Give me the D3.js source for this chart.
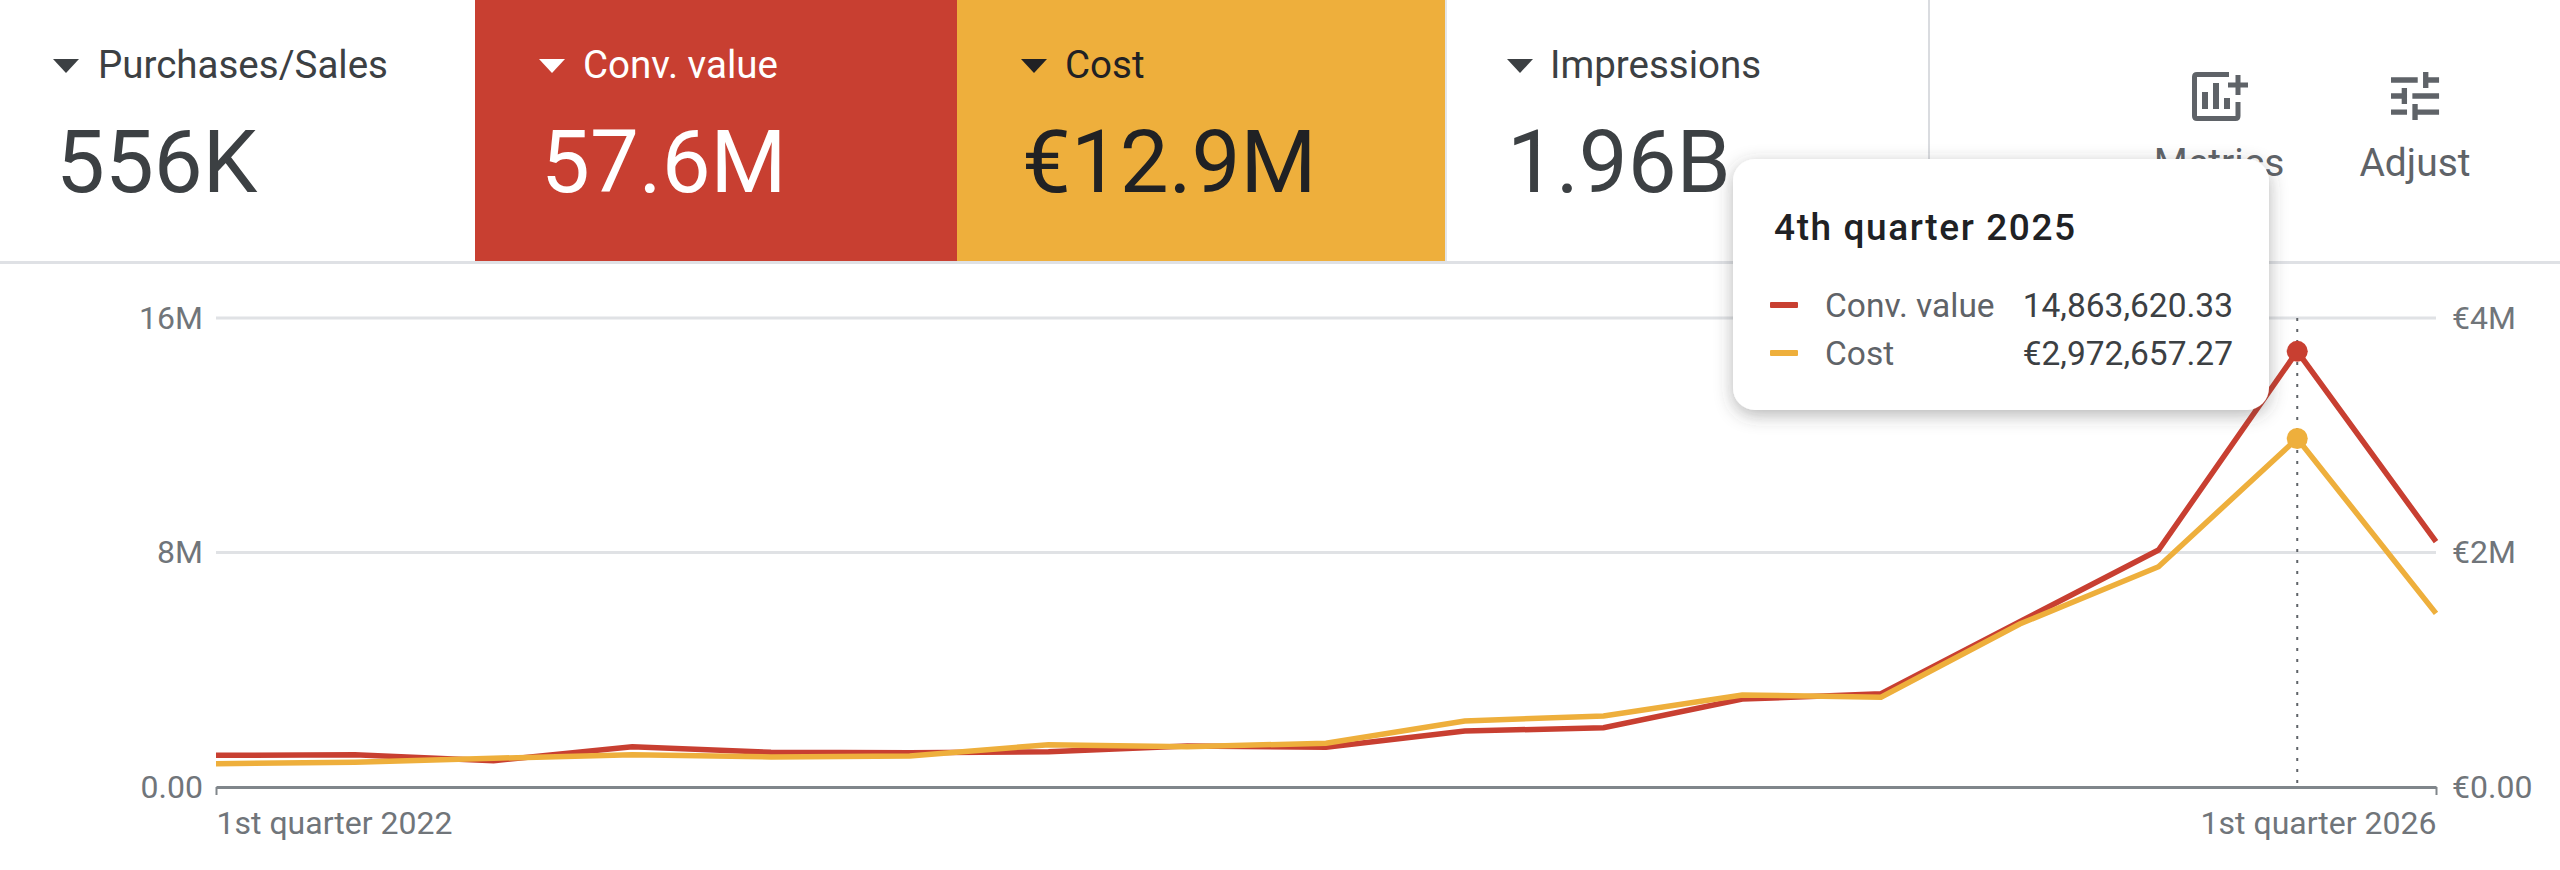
<!DOCTYPE html>
<html>
<head>
<meta charset="utf-8">
<script src="https://cdn.jsdelivr.net/npm/d3@7"></script>
<style>
  html, body { margin: 0; padding: 0; background: #fff; }
  svg { display: block; }
  text { font-family: Roboto, "Noto Sans", sans-serif; }
</style>
</head>
<body>
<svg id="chart" width="2560" height="870"></svg>
<script>
// data
var quarters = ["Q1 2022","Q2 2022","Q3 2022","Q4 2022","Q1 2023","Q2 2023","Q3 2023","Q4 2023","Q1 2024","Q2 2024","Q3 2024","Q4 2024","Q1 2025","Q2 2025","Q3 2025","Q4 2025","Q1 2026"];
var convValue = [1081000,1100000,897000,1375000,1184000,1170000,1204000,1400000,1354000,1910000,2020000,3000000,3180000,5640000,8085000,14863620.33,8370000];
var cost = [199000,211000,245000,275000,256000,264000,361000,344000,373000,563000,606000,785000,765000,1390000,1879000,2972657.27,1481000];

var leftTicks = [0, 8000000, 16000000];
var leftTickLabels = ["0.00", "8M", "16M"];
var rightTicks = [0, 2000000, 4000000];
var rightTickLabels = ["€0.00", "€2M", "€4M"];
var xLabels = ["1st quarter 2022", "1st quarter 2026"];

var cardLabels = ["Purchases/Sales", "Conv. value", "Cost", "Impressions"];
var cardValues = ["556K", "57.6M", "€12.9M", "1.96B"];
var toolButtons = ["Metrics", "Adjust"];

var tipTitle = "4th quarter 2025";
var tipNames = ["Conv. value", "Cost"];
var tipValues = ["14,863,620.33", "€2,972,657.27"];
var hoverIndex = 15;

// colours and layout
var RED = "#c83f31", YELLOW = "#eeaf3c", DARK = "#3c4043", BLACK = "#202124", GREY = "#70757a";
var svg = d3.select("#chart");

var x = d3.scalePoint().domain(quarters).range([216, 2436]);
var yLeft = d3.scaleLinear().domain([0, 16000000]).range([787, 318]);
var yRight = d3.scaleLinear().domain([0, 4000000]).range([787, 318]);

// header cards
var cardBoxes = [
  {x: 0, w: 475, fill: "#fff", text: DARK, tri: 53, label: 98, value: 56},
  {x: 475, w: 482, fill: RED, text: "#fff", tri: 539, label: 583, value: 541},
  {x: 957, w: 488, fill: YELLOW, text: BLACK, tri: 1021, label: 1065, value: 1022},
  {x: 1445, w: 484, fill: "#fff", text: DARK, tri: 1507, label: 1550, value: 1507}
];

var cards = svg.append("g").selectAll("g")
  .data(cardBoxes)
  .enter()
  .append("g");

cards.append("rect")
  .attr("x", function(d){ return d.x; })
  .attr("y", 0)
  .attr("width", function(d){ return d.w; })
  .attr("height", 261)
  .attr("fill", function(d){ return d.fill; });

cards.append("path")
  .attr("d", function(d){ return "M" + d.tri + " 59h26l-13 14z"; })
  .attr("fill", function(d){ return d.text; });

cards.append("text")
  .attr("x", function(d){ return d.label; })
  .attr("y", 78)
  .attr("font-size", 38.5)
  .attr("fill", function(d){ return d.text; })
  .text(function(d, i){ return cardLabels[i]; });

cards.append("text")
  .attr("x", function(d){ return d.value; })
  .attr("y", 192)
  .attr("font-size", 87)
  .attr("fill", function(d){ return d.text; })
  .text(function(d, i){ return cardValues[i]; });

// separators
svg.append("rect").attr("x", 0).attr("y", 261).attr("width", 2560).attr("height", 3).attr("fill", "#dfe1e5");
svg.append("rect").attr("x", 1445).attr("y", 0).attr("width", 2).attr("height", 261).attr("fill", "#e3e5e8");
svg.append("rect").attr("x", 1928).attr("y", 0).attr("width", 2).attr("height", 261).attr("fill", "#dadce0");

// metrics and adjust buttons
var metricsIcon = svg.append("g").attr("fill", "none").attr("stroke", "#5f6368").attr("stroke-width", 5);
metricsIcon.append("path").attr("d", "M2229 74.5H2197q-2.5 0-2.5 2.5V116q0 2.5 2.5 2.5H2235.5q2.5 0 2.5-2.5V102");
metricsIcon.append("path").attr("d", "M2228 85H2248M2238 75V95");
metricsIcon.append("path").attr("stroke-width", 6).attr("d", "M2205 92V109M2216 83V109M2227 98V109");
svg.append("path")
  .attr("transform", "translate(2383,64) scale(2.67)")
  .attr("fill", "#5f6368")
  .attr("d", "M3 17v2h6v-2H3zM3 5v2h10V5H3zm10 16v-2h8v-2h-8v-2h-2v6h2zM7 9v2H3v2h4v2h2V9H7zm14 4v-2H11v2h10zm-6-4h2V7h4V5h-4V3h-2v6z");
svg.selectAll(".tool")
  .data(toolButtons)
  .enter()
  .append("text")
  .attr("class", "tool")
  .attr("x", function(d, i){ return i == 0 ? 2219 : 2415; })
  .attr("y", 176)
  .attr("text-anchor", "middle")
  .attr("font-size", 39)
  .attr("fill", "#5f6368")
  .text(function(d){ return d; });

// axes
var axisLeft = d3.axisLeft(yLeft)
  .tickValues(leftTicks)
  .tickSize(0)
  .tickPadding(13)
  .tickFormat(function(d, i){ return leftTickLabels[i]; });
var axisRight = d3.axisRight(yRight)
  .tickValues(rightTicks)
  .tickSize(0)
  .tickPadding(16)
  .tickFormat(function(d, i){ return rightTickLabels[i]; });

var gLeft = svg.append("g").attr("transform", "translate(216,0)").call(axisLeft);
var gRight = svg.append("g").attr("transform", "translate(2436,0)").call(axisRight);
[gLeft, gRight].forEach(function(g){
  g.select(".domain").remove();
  g.selectAll("text").attr("font-size", 32).attr("fill", GREY).style("font-family", "Roboto, sans-serif");
});

// gridlines
svg.append("g").selectAll("line")
  .data(leftTicks.slice(1))
  .enter()
  .append("line")
  .attr("x1", 216)
  .attr("x2", 2436)
  .attr("y1", function(d){ return yLeft(d); })
  .attr("y2", function(d){ return yLeft(d); })
  .attr("stroke", "#e0e2e5")
  .attr("stroke-width", 3);

// baseline with end ticks
var axisBottom = d3.axisBottom(x)
  .tickValues([quarters[0], quarters[quarters.length - 1]])
  .tickSize(8)
  .tickSizeOuter(0)
  .tickFormat(function(d, i){ return xLabels[i]; });
var gBottom = svg.append("g").attr("transform", "translate(0,787)").call(axisBottom);
gBottom.select(".domain").attr("stroke", "#80868b").attr("stroke-width", 3);
gBottom.selectAll(".tick line").attr("stroke", "#80868b").attr("stroke-width", 2);
gBottom.selectAll("text")
  .attr("font-size", 32)
  .attr("fill", GREY)
  .attr("y", 47)
  .attr("dy", 0)
  .style("font-family", "Roboto, sans-serif")
  .attr("text-anchor", function(d, i){ return i == 0 ? "start" : "end"; });

// hover guide
svg.append("line")
  .attr("x1", x(quarters[hoverIndex]))
  .attr("x2", x(quarters[hoverIndex]))
  .attr("y1", 318)
  .attr("y2", 785)
  .attr("stroke", "#5f6368")
  .attr("stroke-width", 2)
  .attr("stroke-dasharray", "3,8");

// lines
var lineConv = d3.line()
  .x(function(d, i){ return x(quarters[i]); })
  .y(function(d){ return yLeft(d); });
var lineCost = d3.line()
  .x(function(d, i){ return x(quarters[i]); })
  .y(function(d){ return yRight(d); });

svg.append("path").attr("d", lineConv(convValue)).attr("fill", "none").attr("stroke", RED).attr("stroke-width", 5.5);
svg.append("path").attr("d", lineCost(cost)).attr("fill", "none").attr("stroke", YELLOW).attr("stroke-width", 5.5);

svg.append("circle").attr("cx", x(quarters[hoverIndex])).attr("cy", yLeft(convValue[hoverIndex])).attr("r", 10.5).attr("fill", RED);
svg.append("circle").attr("cx", x(quarters[hoverIndex])).attr("cy", yRight(cost[hoverIndex])).attr("r", 10.5).attr("fill", YELLOW);

// tooltip
var defs = svg.append("defs");
var shadow = defs.append("filter").attr("id", "tipShadow").attr("x", "-10%").attr("y", "-15%").attr("width", "120%").attr("height", "135%");
shadow.append("feDropShadow").attr("dx", 0).attr("dy", 5).attr("stdDeviation", 9).attr("flood-color", "#3c4043").attr("flood-opacity", 0.38);

var tip = svg.append("g");
tip.append("rect")
  .attr("x", 1733)
  .attr("y", 159)
  .attr("width", 536)
  .attr("height", 251)
  .attr("rx", 22)
  .attr("fill", "#fff")
  .attr("filter", "url(#tipShadow)");
tip.append("text")
  .attr("x", 1774)
  .attr("y", 240)
  .attr("font-size", 37)
  .attr("font-weight", 500)
  .attr("letter-spacing", 1.6)
  .attr("fill", BLACK)
  .text(tipTitle);

var tipRows = tip.selectAll(".row")
  .data(tipNames)
  .enter()
  .append("g")
  .attr("class", "row")
  .attr("transform", function(d, i){ return "translate(0," + (i == 0 ? 305 : 353) + ")"; });
tipRows.append("rect")
  .attr("x", 1770)
  .attr("y", -3)
  .attr("width", 28)
  .attr("height", 6)
  .attr("rx", 1)
  .attr("fill", function(d, i){ return i == 0 ? RED : YELLOW; });
tipRows.append("text")
  .attr("x", 1825)
  .attr("y", 12)
  .attr("font-size", 33.5)
  .attr("fill", "#5f6368")
  .text(function(d){ return d; });
tipRows.append("text")
  .attr("x", 2233)
  .attr("y", 12)
  .attr("text-anchor", "end")
  .attr("font-size", 33.5)
  .attr("fill", DARK)
  .text(function(d, i){ return tipValues[i]; });
</script>
</body>
</html>
